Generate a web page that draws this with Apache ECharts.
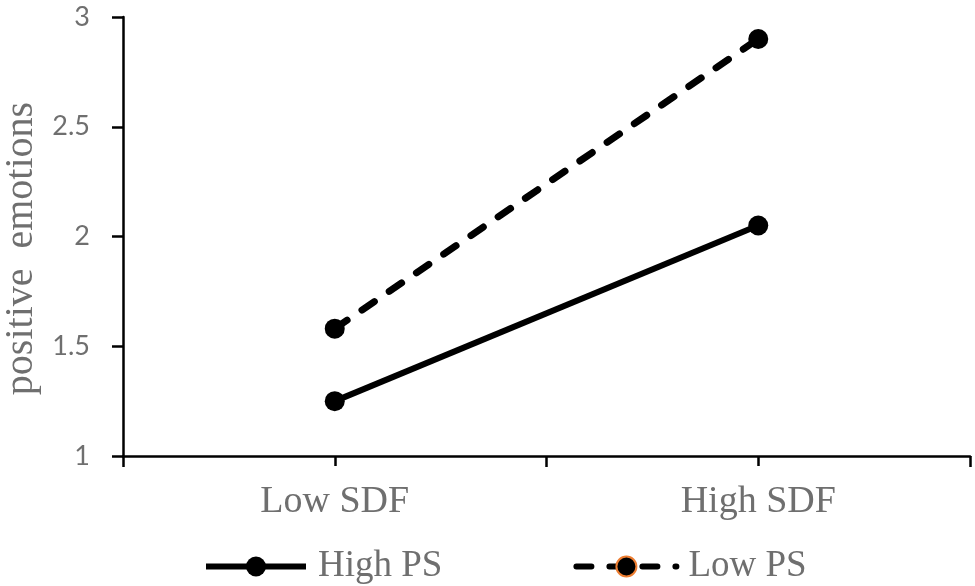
<!DOCTYPE html>
<html>
<head>
<meta charset="utf-8">
<script src="https://cdn.jsdelivr.net/npm/echarts@6/dist/echarts.min.js"></script>
<style>
  html, body { margin: 0; padding: 0; background: #fff; }
  #chart { width: 975px; height: 586px; }
</style>
</head>
<body>
<div id="chart"></div>
<script>
var categories = ['Low SDF', 'High SDF'];
var highPS = [1.25, 2.05];
var lowPS = [1.58, 2.90];
var seriesNames = ['High PS', 'Low PS'];

var grey = '#6f6f6f';
var serif = '"Liberation Serif", "Times New Roman", serif';

var chart = echarts.init(document.getElementById('chart'));
var option = {
    backgroundColor: '#fff',
    animation: false,
    grid: {
        left: 123,
        right: 5,
        top: 17,
        bottom: 130,
        containLabel: false,
        outerBoundsMode: 'none'
    },
    legend: {
        left: 198,
        top: 543,
        itemWidth: 100,
        itemHeight: 25,
        itemGap: 131,
        lineStyle: { width: 6 },
        textStyle: {
            fontFamily: serif,
            fontSize: 37,
            color: grey,
            padding: [0, 0, 0, 7]
        },
        data: [
            { name: seriesNames[0] },
            { name: seriesNames[1], itemStyle: { borderColor: '#ed7d31', borderWidth: 2 } }
        ]
    },
    xAxis: [
        {
            type: 'category',
            data: categories,
            boundaryGap: true,
            axisLine: { lineStyle: { color: '#000', width: 2.5 } },
            axisTick: { show: true, length: 11, lineStyle: { color: '#000', width: 2.5 } },
            axisLabel: {
                margin: 27,
                fontFamily: serif,
                fontSize: 38,
                color: grey
            }
        },
        {
            // second axis only for the ticks at the category centres
            type: 'category',
            data: categories,
            position: 'bottom',
            axisLine: { show: false },
            axisTick: { show: true, alignWithLabel: true, length: 10, lineStyle: { color: '#000', width: 2.5 } },
            axisLabel: { show: false }
        }
    ],
    yAxis: {
        type: 'value',
        min: 1,
        max: 3,
        interval: 0.5,
        name: 'positive  emotions',
        nameLocation: 'middle',
        nameGap: 75,
        nameTextStyle: {
            fontFamily: serif,
            fontSize: 40,
            color: grey,
            padding: [0, 24, 0, 0]
        },
        splitLine: { show: false },
        axisLine: { show: true, lineStyle: { color: '#000', width: 2.5 } },
        axisTick: { show: true, length: 11, lineStyle: { color: '#000', width: 2.5 } },
        axisLabel: {
            margin: 33,
            fontFamily: 'Lato, "Open Sans", sans-serif',
            fontSize: 27,
            color: grey
        }
    },
    series: [
        {
            name: seriesNames[0],
            type: 'line',
            data: highPS,
            symbol: 'circle',
            symbolSize: 20,
            itemStyle: { color: '#000' },
            lineStyle: { color: '#000', width: 6 }
        },
        {
            name: seriesNames[1],
            type: 'line',
            data: lowPS,
            symbol: 'circle',
            symbolSize: 20,
            itemStyle: { color: '#000' },
            lineStyle: { color: '#000', width: 7, type: [15, 18], cap: 'round' }
        }
    ]
};
chart.setOption(option);
</script>
</body>
</html>
